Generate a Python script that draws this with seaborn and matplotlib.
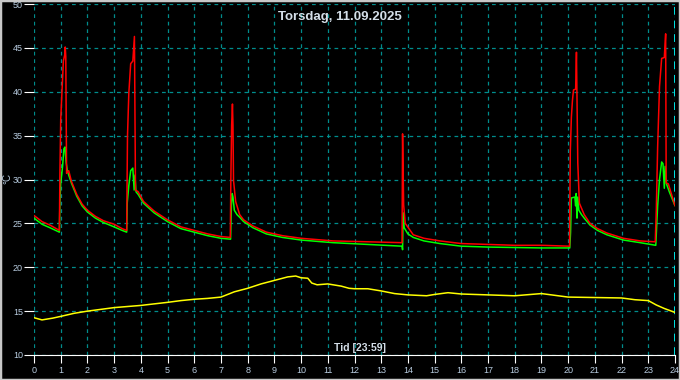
import matplotlib
matplotlib.use("Agg")
import matplotlib.pyplot as plt
from matplotlib.ticker import MultipleLocator
from matplotlib.patches import Rectangle
import seaborn as sns
import pandas as pd

# hours of day / temperature in degC
red_t = [0.0, 0.3, 0.6, 0.95, 0.97, 1.0, 1.05, 1.10, 1.15, 1.17, 1.19, 1.22, 1.30, 1.4, 1.6, 1.8,
         2.0, 2.3, 2.6, 3.0, 3.3, 3.47, 3.50, 3.55, 3.62, 3.70, 3.76, 3.80, 3.9, 4.1, 4.5, 5.0,
         5.5, 6.0, 6.5, 7.0, 7.35, 7.37, 7.40, 7.43, 7.45, 7.47, 7.55, 7.7, 7.85, 8.2, 8.7, 9.3,
         10.0, 11.2, 12.5, 13.78, 13.80, 13.84, 13.9, 14.2, 14.6, 15.2, 16.0, 17.0, 18.0, 19.0,
         20.05, 20.08, 20.12, 20.16, 20.2, 20.28, 20.31, 20.36, 20.42, 20.6, 20.82, 21.1, 21.45,
         22.07, 22.7, 23.26, 23.30, 23.35, 23.42, 23.50, 23.60, 23.65, 23.67, 23.75, 23.9, 24.0]
red_c = [25.9, 25.2, 24.8, 24.2, 30.7, 36.8, 40.2, 43.5, 44.2, 45.1, 44.0, 30.7, 31.0, 29.8, 28.3, 27.2,
         26.5, 25.8, 25.3, 24.9, 24.4, 24.2, 34.9, 39.8, 43.2, 43.5, 46.3, 28.8, 28.6, 27.5, 26.4, 25.4,
         24.6, 24.2, 23.8, 23.5, 23.4, 29.9, 36.2, 38.6, 36.2, 29.9, 27.5, 26.0, 25.4, 24.7, 24.0, 23.6,
         23.3, 23.0, 22.9, 22.8, 35.2, 27.1, 25.0, 23.7, 23.3, 23.0, 22.7, 22.6, 22.5, 22.5,
         22.4, 33.2, 37.1, 39.0, 40.2, 40.3, 44.5, 31.9, 27.3, 26.0, 25.0, 24.4, 23.9,
         23.3, 23.0, 22.9, 26.5, 33.7, 40.6, 43.8, 43.9, 46.6, 29.6, 29.5, 28.0, 27.0]

green_t = [0.0, 0.3, 0.6, 0.95, 0.97, 1.0, 1.07, 1.12, 1.16, 1.2, 1.25, 1.3, 1.4, 1.6, 1.8,
           2.0, 2.3, 2.6, 3.0, 3.3, 3.47, 3.49, 3.55, 3.62, 3.70, 3.75, 3.78, 3.82, 3.9, 4.1, 4.5, 5.0,
           5.5, 6.0, 6.5, 7.0, 7.36, 7.39, 7.42, 7.45, 7.5, 7.6, 7.7, 7.85, 8.2, 8.7, 9.3,
           10.0, 11.2, 12.5, 13.78, 13.80, 13.82, 13.86, 14.0, 14.2, 14.6, 15.2, 16.0, 17.0, 18.0, 19.0,
           20.06, 20.09, 20.12, 20.25, 20.28, 20.30, 20.33, 20.36, 20.40, 20.5, 20.6, 20.82, 21.1, 21.45,
           22.07, 22.7, 23.28, 23.35, 23.42, 23.50, 23.55, 23.60, 23.63, 23.68, 23.8, 24.0]
green_c = [25.6, 24.9, 24.5, 24.0, 27.5, 29.5, 31.5, 33.5, 33.7, 32.0, 31.0, 30.5, 29.6, 28.1, 27.0,
           26.3, 25.6, 25.1, 24.6, 24.2, 24.0, 27.3, 29.3, 31.0, 31.3, 28.8, 30.5, 28.6, 28.3, 27.3, 26.2, 25.2,
           24.4, 24.0, 23.6, 23.3, 23.2, 27.0, 28.4, 28.0, 26.5, 26.0, 25.7, 25.2, 24.5, 23.8, 23.4,
           23.1, 22.8, 22.6, 22.4, 22.0, 26.2, 24.5, 23.8, 23.4, 23.0, 22.7, 22.4, 22.3, 22.25, 22.2,
           22.2, 24.0, 27.9, 28.0, 27.0, 28.4, 25.6, 28.0, 26.5, 26.0, 25.6, 24.8, 24.2, 23.7,
           23.1, 22.8, 22.5, 27.0, 30.0, 32.0, 31.8, 29.0, 31.5, 29.5, 28.5, 27.0]

yellow_t = [0.0, 0.3, 0.7, 1.0, 1.5, 2.0, 3.0, 4.0, 5.0, 5.5, 6.0, 6.5, 7.0, 7.5, 8.0, 8.5, 9.0,
            9.5, 9.8, 10.0, 10.25, 10.4, 10.6, 11.0, 11.5, 11.8, 12.0, 12.5, 13.0, 13.5, 14.0, 14.7,
            15.0, 15.5, 16.0, 16.5, 17.0, 17.5, 18.0, 19.0, 20.0, 21.0, 22.0, 22.5, 23.0, 23.3, 23.6, 24.0]
yellow_c = [14.25, 14.0, 14.2, 14.4, 14.75, 15.0, 15.4, 15.65, 16.0, 16.2, 16.35, 16.45, 16.6, 17.2, 17.6,
            18.1, 18.5, 18.9, 19.0, 18.8, 18.75, 18.2, 18.0, 18.1, 17.85, 17.6, 17.55, 17.55, 17.3, 17.0,
            16.85, 16.75, 16.9, 17.1, 16.95, 16.9, 16.85, 16.8, 16.75, 17.0, 16.6, 16.55, 16.5, 16.3, 16.2,
            15.7, 15.3, 14.85]

title = "Torsdag, 11.09.2025"
x_title = "Tid [23:59]"
y_title = "°C"

sns.set_style("dark", {"axes.facecolor": "black", "figure.facecolor": "black"})
plt.rcParams["font.family"] = ["Liberation Sans", "DejaVu Sans"]

label_col = "#b8cce0"
grid_col = "#008c8c"

fig = plt.figure(figsize=(6.8, 3.8), dpi=100)
ax = fig.add_axes([34 / 680, 25 / 380, 641 / 680, 351 / 380])
ax.set_facecolor("black")

ax.set_xlim(0, 24)
ax.set_ylim(10, 50)
ax.xaxis.set_major_locator(MultipleLocator(1))
ax.xaxis.set_minor_locator(MultipleLocator(0.2))
ax.yaxis.set_major_locator(MultipleLocator(5))
ax.yaxis.set_minor_locator(MultipleLocator(1))
ax.grid(True, which="major", color=grid_col, linestyle=(0, (3, 3)), linewidth=0.9)
ax.axvline(24, color="#00e5e5", linestyle=(0, (4, 3)), linewidth=1.4, zorder=1)

sns.lineplot(data=pd.DataFrame({"t": yellow_t, "c": yellow_c}), x="t", y="c", ax=ax,
             color="#ffff00", linewidth=1.1, sort=False, estimator=None)
sns.lineplot(data=pd.DataFrame({"t": green_t, "c": green_c}), x="t", y="c", ax=ax,
             color="#00ff00", linewidth=1.1, sort=False, estimator=None)
sns.lineplot(data=pd.DataFrame({"t": red_t, "c": red_c}), x="t", y="c", ax=ax,
             color="#ff0000", linewidth=1.1, sort=False, estimator=None)

ax.set_xlabel("")
ax.set_ylabel("")
for s in ["left", "top", "right"]:
    ax.spines[s].set_visible(False)
ax.spines["bottom"].set_color("white")
ax.spines["bottom"].set_linewidth(0.8)

ax.tick_params(axis="x", which="major", direction="out", length=6, width=0.8,
               color="white", labelcolor=label_col, labelsize=6.5, pad=2)
ax.tick_params(axis="x", which="minor", direction="out", length=3.5, width=0.8, color="white")
ax.tick_params(axis="y", which="major", direction="out", length=7, width=0.8,
               color="white", labelcolor=label_col, labelsize=6.5, pad=1)
ax.tick_params(axis="y", which="minor", direction="out", length=3.5, width=0.8, color="white")
ax.xaxis.set_tick_params(bottom=True)
ax.yaxis.set_tick_params(left=True)

fig.text(340 / 680, 1 - 17 / 380, title, ha="center", va="center",
         color="#d4dee8", fontsize=9.5, fontweight="bold")
fig.text(360 / 680, 32 / 380, x_title, ha="center", va="center",
         color="#d4dee8", fontsize=7.5, fontweight="bold")
fig.text(7 / 680, 1 - 178 / 380, y_title, ha="center", va="center", rotation=90,
         color=label_col, fontsize=7)

fig.patches.append(Rectangle((0, 0), 1, 1, transform=fig.transFigure, fill=False,
                             edgecolor="#c8c8c8", linewidth=2.5))

fig.savefig("out.png", dpi=100, facecolor="black")
plt.close(fig)
